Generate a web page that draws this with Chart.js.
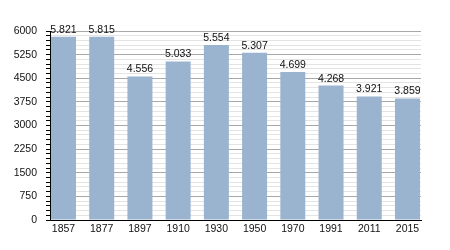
<!DOCTYPE html>
<html>
<head>
<meta charset="utf-8">
<script src="https://cdn.jsdelivr.net/npm/chart.js@4/dist/chart.umd.min.js"></script>
<style>
  body { margin: 0; background: #fff; }
  #wrap { width: 450px; height: 250px; }
</style>
</head>
<body>
<div id="wrap"><canvas id="popChart" width="450" height="250"></canvas></div>
<script>
const years = ["1857", "1877", "1897", "1910", "1930", "1950", "1970", "1991", "2011", "2015"];
const population = [5821, 5815, 4556, 5033, 5554, 5307, 4699, 4268, 3921, 3859];
const yMax = 6000;
const yMinorStep = 150;
const yMajorStep = 750;

// thousands separator is a dot, like "5.821"
function formatNum(n) {
    return String(n).replace(/\B(?=(\d{3})+(?!\d))/g, ".");
}

const valueLabels = {
    id: "valueLabels",
    afterDatasetsDraw(chart) {
        const ctx = chart.ctx;
        const meta = chart.getDatasetMeta(0);
        ctx.save();
        ctx.font = '10.5px "Liberation Sans", Arial, sans-serif';
        ctx.fillStyle = "#111";
        ctx.textAlign = "center";
        ctx.textBaseline = "alphabetic";
        meta.data.forEach((bar, i) => {
            ctx.fillText(formatNum(population[i]), bar.x, bar.y - 4);
        });
        ctx.restore();
    }
};

const points = population.map((v, i) => ({ x: i, y: v }));

new Chart(document.getElementById("popChart"), {
    type: "bar",
    data: {
        datasets: [{
            data: points,
            backgroundColor: "#9ab3cf",
            borderWidth: 0,
            categoryPercentage: 1,
            barPercentage: 0.654
        }]
    },
    options: {
        responsive: false,
        animation: false,
        layout: { padding: { top: 31, right: 29, left: 0, bottom: 0 } },
        plugins: {
            legend: { display: false },
            tooltip: { enabled: false }
        },
        scales: {
            x: {
                type: "linear",
                offset: false,
                bounds: "data",
                min: -0.353,
                max: 9.354,
                afterBuildTicks: s => { s.ticks = years.map((y, i) => ({ value: i })); },
                afterFit: s => { s.height = 30; },
                grid: { display: false, drawTicks: false },
                border: { display: true, color: "#000", width: 1 },
                ticks: {
                    autoSkip: false,
                    maxRotation: 0,
                    padding: 3,
                    color: "#111",
                    font: { family: '"Liberation Sans", Arial, sans-serif', size: 10.5 },
                    callback: v => years[v]
                }
            },
            y: {
                min: 0,
                max: yMax,
                afterFit: s => { s.width = 50; },
                grid: {
                    color: c => (c.tick && c.tick.value % yMajorStep === 0) ? "#a8a8a8" : "#e4e4e4",
                    tickColor: "#000",
                    tickLength: 4,
                    drawTicks: true
                },
                border: { display: true, color: "#000", width: 1 },
                ticks: {
                    stepSize: yMinorStep,
                    maxTicksLimit: 100,
                    autoSkip: false,
                    padding: 9,
                    color: "#111",
                    font: { family: '"Liberation Sans", Arial, sans-serif', size: 10.5 },
                    callback: v => v % yMajorStep === 0 ? String(v) : ""
                }
            }
        }
    },
    plugins: [valueLabels]
});
</script>
</body>
</html>
